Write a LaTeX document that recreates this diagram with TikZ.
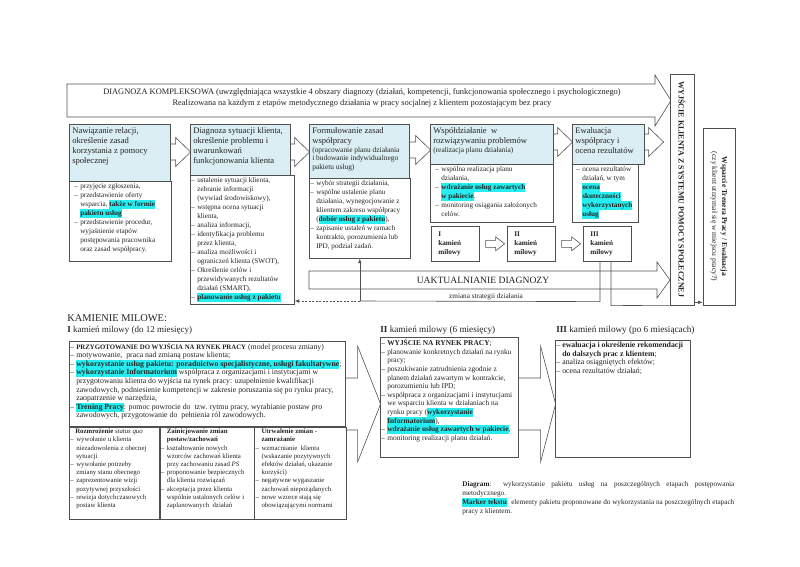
\documentclass[tikz,border=0pt]{standalone}
\usepackage{fontspec}
\setmainfont{Liberation Serif}
\usetikzlibrary{arrows.meta}

\definecolor{phaseblue}{RGB}{219,238,243}
\definecolor{markcyan}{RGB}{38,238,240}
\definecolor{lineg}{RGB}{80,80,80}
\definecolor{txtg}{RGB}{35,35,35}

\newcommand{\mk}[1]{\leavevmode\begingroup\bfseries\setbox0\hbox{#1}\rlap{\color{markcyan}\rule[-2.2pt]{\wd0}{8.6pt}}\box0\endgroup}
\newcommand{\dit}{\par\noindent\hangindent=6pt\hangafter=1\makebox[6pt][l]{--}}
\newcommand{\cellbox}[3]{\parbox[t][#2][t]{#1}{\raggedright\let\\\newline #3}}

\tikzset{
  phase/.style={draw=lineg, fill=phaseblue, anchor=north west, inner sep=3pt,
    font=\fontsize{8.6}{10}\selectfont},
  steplist/.style={draw=lineg, fill=white, anchor=north west, inner xsep=1pt, inner ysep=2pt,
    font=\fontsize{7.2}{9}\selectfont},
  milestone/.style={draw=lineg, fill=white, anchor=north west, inner xsep=7pt, inner ysep=3pt,
    text width=34pt, minimum height=35pt, align=left, font=\fontsize{7.2}{9.3}\selectfont\bfseries},
  stagebox/.style={draw=lineg, fill=white, anchor=north west, inner xsep=1pt, inner ysep=2pt,
    font=\fontsize{7.8}{8.6}\selectfont},
  colbox/.style={draw=lineg, fill=white, anchor=north west, inner xsep=1pt, inner ysep=2pt,
    font=\fontsize{6.8}{8.2}\selectfont},
  heading/.style={anchor=base west, inner sep=0pt},
  blk/.style={draw=lineg},
  conn/.style={draw=lineg},
  arrowend/.style={-{Latex[length=4.5pt,width=3.5pt]}},
}

\begin{document}
\begin{tikzpicture}[x=1pt, y=-1pt, line width=0.6pt, text=txtg]
\fill[white] (0,0) rectangle (800,566);
\useasboundingbox (0,0) rectangle (800,566);

% diagnoza kompleksowa
\draw[blk] (67,84) -- (655,84) -- (655,75) -- (671,100.5) -- (655,126) -- (655,117) -- (67,117) -- cycle;
\node[align=center, font=\fontsize{8.4}{11.5}\selectfont] (diag) at (362,98) {DIAGNOZA KOMPLEKSOWA (uwzględniająca wszystkie 4 obszary diagnozy (działań, kompetencji, funkcjonowania społecznego i psychologicznego)\\Realizowana na każdym z etapów metodycznego działania w pracy socjalnej z klientem pozostającym bez pracy};

% wyjscie z systemu, trener pracy
\node[draw=lineg, fill=white, rotate=-90, minimum width=231pt, minimum height=24pt, inner sep=0pt,
  font=\fontsize{8}{9}\selectfont\bfseries] (exit) at (682,189.5) {WYJŚCIE KLIENTA Z SYSTEMU POMOCY SPOŁECZNEJ};
\node[draw=lineg, fill=white, rotate=-90, minimum width=177pt, minimum height=32pt, inner sep=1pt, align=center,
  font=\fontsize{7.6}{10}\selectfont] (trener) at (719,216.5) {\textbf{Wsparcie Trenera Pracy / Ewaluacja}\\(czy klient utrzymał się w miejscu pracy?)};

% etapy
\node[phase] (B1) at (69,124) {\cellbox{95pt}{51pt}{Nawiązanie relacji,\\ określenie zasad\\ korzystania z pomocy\\ społecznej}};
\node[phase] (B2) at (190,124) {\cellbox{94pt}{45pt}{Diagnoza sytuacji klienta,\\ określenie problemu i\\ uwarunkowań\\ funkcjonowania klienta}};
\node[phase] (B3) at (309,124) {\cellbox{94pt}{48pt}{Formułowanie zasad\\ współpracy\par
  {\fontsize{7.4}{8.8}\selectfont (opracowanie planu działania\\ i budowanie indywidualnego\\ pakietu usług)\par}}};
\node[phase] (B4) at (430,124) {\cellbox{117pt}{34pt}{Współdziałanie \ w\\ rozwiązywaniu problemów\par
  {\fontsize{7.4}{8.8}\selectfont (realizacja planu działania)\par}}};
\node[phase] (B5) at (572,124) {\cellbox{66pt}{34pt}{Ewaluacja\\ współpracy i\\ ocena rezultatów}};

\draw[blk] (B1.north east) ++(0,20) -- ++(5,0) -- ++(0,-6.5) -- ++(15,14.5) -- ++(-15,14.5) -- ++(0,-6.5) -- ++(-5,0);
\draw[blk] (B2.north east) ++(0,20) -- ++(4,0) -- ++(0,-6.5) -- ++(15,14.5) -- ++(-15,14.5) -- ++(0,-6.5) -- ++(-4,0);
\draw[blk] (B3.north east) ++(0,18) -- ++(6,0) -- ++(0,-6.5) -- ++(15,14.5) -- ++(-15,14.5) -- ++(0,-6.5) -- ++(-6,0);
\draw[blk] (B4.north east) ++(0,10) -- ++(4,0) -- ++(0,-6.5) -- ++(15,14.5) -- ++(-15,14.5) -- ++(0,-6.5) -- ++(-4,0);
\draw[blk] (B5.north east) ++(0,10) -- ++(4,0) -- ++(0,-6.5) -- ++(15,14.5) -- ++(-15,14.5) -- ++(0,-6.5) -- ++(-4,0);

% zadania
\node[steplist, inner xsep=5pt] (L1) at (69,181) {\cellbox{92pt}{76pt}{%
  \dit przyjęcie zgłoszenia,
  \dit przedstawienie oferty\\ wsparcia, \mk{także w formie}\\ \mk{pakietu usług}
  \dit przedstawienie procedur,\\ wyjaśnienie etapów\\ postępowania pracownika\\ oraz zasad współpracy.}};
\node[steplist] (L2) at (190,175) {\cellbox{102pt}{125pt}{%
  \dit ustalenie sytuacji klienta,\\ zebranie informacji\\ (wywiad środowiskowy),
  \dit wstępna ocena sytuacji\\ klienta,
  \dit analiza informacji,
  \dit identyfikacja problemu\\ przez klienta,
  \dit analiza możliwości i\\ ograniczeń klienta (SWOT),
  \dit Określenie celów i\\ przewidywanych rezultatów\\ działań (SMART),
  \dit \mk{planowanie usług z pakietu}}};
\node[steplist] (L3) at (309,178) {\cellbox{99pt}{76pt}{%
  \dit wybór strategii działania,
  \dit wspólne ustalenie planu\\ działania, wynegocjowanie z\\ klientem zakresu współpracy\\ (\mk{dobór usług z pakietu}),
  \dit zapisanie ustaleń w ramach\\ kontraktu, porozumienia lub\\ IPD, podział zadań.}};
\node[steplist, inner xsep=5pt] (L4) at (430,164) {\cellbox{113pt}{54pt}{%
  \dit wspólna realizacja planu\\ działania,
  \dit \mk{wdrażanie usług zawartych}\\ \mk{w pakiecie}.
  \dit monitoring osiągania założonych\\ celów.}};
\node[steplist, inner xsep=4pt] (L5) at (572,164) {\cellbox{58pt}{54pt}{%
  \dit ocena rezultatów\\ działań, w tym\\ \mk{ocena}\\ \mk{skuteczności}\\ \mk{wykorzystanych}\\ \mk{usług}}};

% kamienie milowe
\node[milestone] (K1) at (431,226) {I\\ kamień\\ milowy};
\node[milestone] (K2) at (507,226) {II\\ kamień\\ milowy};
\node[milestone] (K3) at (583,226) {III\\ kamień\\ milowy};
\draw[blk] (K1.east) ++(6,-3.5) -- ++(10,0) -- ++(0,-3.5) -- ++(9,7) -- ++(-9,7) -- ++(0,-3.5) -- ++(-10,0) -- cycle;
\draw[blk] (K2.east) ++(6,-3.5) -- ++(10,0) -- ++(0,-3.5) -- ++(9,7) -- ++(-9,7) -- ++(0,-3.5) -- ++(-10,0) -- cycle;

% uaktualnianie diagnozy
\draw[blk] (309,271) -- (657,271) -- (657,262) -- (670,280) -- (657,298) -- (657,289) -- (309,289) -- cycle;
\node[font=\fontsize{9.6}{11}\selectfont] (update) at (483,280) {UAKTUALNIANIE DIAGNOZY};

% zmiana strategii
\coordinate (lvl) at (0,301);
\coordinate (junc) at (L3.south |- lvl);
\draw[conn] (K3.south west) ++(17,0) -- ++(0,40) -- (junc);
\draw[conn, dashed, dash pattern=on 2pt off 1.5pt, arrowend] (junc) -- (L2.east |- junc);
\draw[conn, arrowend] (junc) -- (L3.south);
\node[anchor=south, inner sep=0.5pt, font=\fontsize{7.2}{8}\selectfont] (chg) at (486,301) {zmiana strategii działania};
\draw[conn] (K3.south west) ++(28,0) -- ++(0,44) -- (exit.south east);
\draw[conn, arrowend] (exit.north east) ++(0,-3) coordinate (q) -- (q -| trener.south);

% dolna czesc
\node[heading, font=\fontsize{10.4}{12}\selectfont] (kmhead) at (67,321) {KAMIENIE MILOWE:};
\node[heading, font=\fontsize{9}{11}\selectfont] (k1head) at (67,332.5) {\textbf{I} kamień milowy (do 12 miesięcy)};
\node[heading, font=\fontsize{9.2}{11}\selectfont] (k2head) at (380,332.5) {\textbf{II} kamień milowy (6 miesięcy)};
\node[heading, font=\fontsize{9.2}{11}\selectfont] (k3head) at (556,332.5) {\textbf{III} kamień milowy (po 6 miesiącach)};

\node[stagebox] (S1) at (69,341) {\cellbox{274pt}{81pt}{%
  \dit {\fontsize{6.8}{8.6}\selectfont\textbf{PRZYGOTOWANIE DO WYJŚCIA NA RYNEK PRACY}} (model procesu zmiany)
  \dit motywowanie, \ praca nad zmianą postaw klienta;
  \dit \mk{wykorzystanie usług pakietu: poradnictwo specjalistyczne, usługi fakultatywne};
  \dit \mk{wykorzystanie Informatorium} współpraca z organizacjami i instytucjami w\\ przygotowaniu klienta do wyjścia na rynek pracy: uzupełnienie kwalifikacji\\ zawodowych, podniesienie kompetencji w zakresie poruszania się po rynku pracy,\\ zaopatrzenie w narzędzia,
  \dit \mk{Trening Pracy}: pomoc powrocie do \ tzw. rytmu pracy, wyrabianie postaw \textit{pro}\\ zawodowych, przygotowanie do \ pełnienia ról zawodowych.}};
\node[colbox] (C1) at (S1.south west) {\cellbox{88pt}{88pt}{%
  \noindent\hspace*{5pt}\textbf{Rozmrożenie} \textit{status quo}
  \dit wywołanie u klienta\\ niezadowolenia z obecnej\\ sytuacji
  \dit wywołanie potrzeby\\ zmiany stanu obecnego
  \dit zaprezentowanie wizji\\ pozytywnej przyszłości
  \dit rewizja dotychczasowych\\ postaw klienta}};
\node[colbox] (C2) at (C1.north east) {\cellbox{92pt}{88pt}{%
  \noindent\hspace*{6pt}\textbf{Zainicjowanie zmian}\\ \hspace*{6pt}\textbf{postaw/zachowań}
  \dit kształtowanie nowych\\ wzorców zachowań klienta\\ przy zachowaniu zasad \textit{PS}
  \dit proponowanie bezpiecznych\\ dla klienta rozwiązań
  \dit akceptacja przez klienta\\ wspólnie ustalonych celów i\\ zaplanowanych \ działań}};
\node[colbox] (C3) at (C2.north east) {\cellbox{90pt}{88pt}{%
  \noindent\hspace*{6pt}\textbf{Utrwalenie zmian -}\\ \hspace*{6pt}\textbf{zamrażanie}
  \dit wzmacnianie \ klienta\\ (wskazanie pozytywnych\\ efektów działań, ukazanie\\ korzyści)
  \dit negatywne wygaszanie\\ zachowań niepożądanych
  \dit nowe wzorce stają się\\ obowiązującymi normami}};

\node[stagebox, font=\fontsize{7.4}{8.6}\selectfont] (M2) at (380,337) {\cellbox{136pt}{116pt}{%
  \dit \textbf{WYJŚCIE NA RYNEK PRACY};
  \dit planowanie konkretnych działań na rynku\\ pracy;
  \dit poszukiwanie zatrudnienia zgodnie z\\ planem działań zawartym w kontrakcie,\\ porozumieniu lub IPD;
  \dit współpraca z organizacjami i instytucjami\\ we wsparciu klienta w działaniach na\\ rynku pracy (\mk{wykorzystanie}\\ \mk{Informatorium}),
  \dit \mk{wdrażanie usług zawartych w pakiecie},
  \dit monitoring realizacji planu działań.}};
\node[stagebox] (M3) at (555,340) {\cellbox{133pt}{113pt}{%
  \dit \textbf{ewaluacja i określenie rekomendacji}\\ \textbf{do dalszych prac z klientem};
  \dit analiza osiągniętych efektów;
  \dit ocena rezultatów działań;}};

\draw[blk] (S1.north east) ++(0,37) -- ++(12,0) -- ++(0,-32) -- ++(23,58) -- ++(-23,58) -- ++(0,-32) -- ++(-12,0);
\draw[blk] (M2.north east) ++(0,41) -- ++(22,0) -- ++(0,-32) -- ++(15,58) -- ++(-15,58) -- ++(0,-32) -- ++(-22,0);

% legenda
\node[anchor=north west, inner sep=0pt, text width=272pt, align=justify,
  font=\fontsize{7.2}{9}\selectfont] (legend) at (462,481) {\hyphenpenalty=10000 \exhyphenpenalty=10000
  \textbf{Diagram}: wykorzystanie pakietu usług na poszczególnych etapach postępowania metodycznego.\par
  \mk{Marker tekstu}: elementy pakietu proponowane do wykorzystania na poszczególnych etapach pracy z klientem.};
\end{tikzpicture}
\end{document}
